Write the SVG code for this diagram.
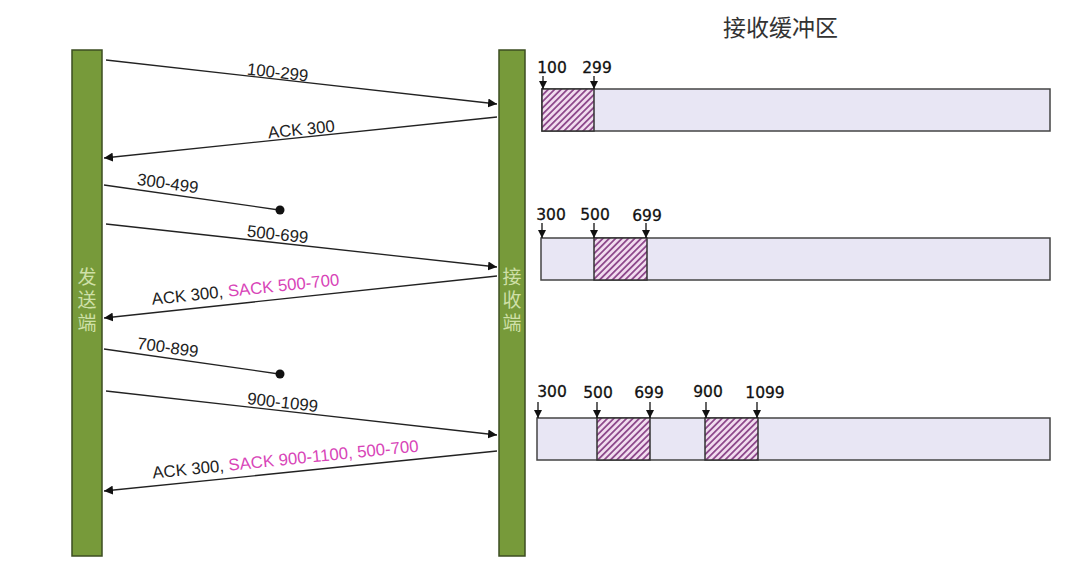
<svg xmlns="http://www.w3.org/2000/svg" width="1080" height="569" viewBox="0 0 1080 569">
<style>
.bar{fill:#779a3a;stroke:#3d4d22;stroke-width:1.5}
.barTxt{font-family:"Noto Sans CJK SC","Noto Sans",sans-serif;font-size:19px;fill:#cfe0a8;writing-mode:vertical-rl;letter-spacing:4px}
.msg{stroke:#222;stroke-width:1.3;fill:none}
.lbl{font-family:"Liberation Sans",Arial,sans-serif;font-size:16.8px;fill:#222;text-anchor:middle}
.pink{fill:#d845b8}
.buf{fill:#e8e6f4;stroke:#444;stroke-width:1.5}
.hatch{fill:url(#hp);stroke:#333;stroke-width:1.5}
.num{font-family:"DejaVu Sans",Verdana,sans-serif;font-size:15.5px;fill:#111;stroke:#111;stroke-width:0.3;text-anchor:middle}
.tick{stroke:#111;stroke-width:1.3;fill:none}
.title{font-family:"Noto Sans CJK SC",sans-serif;font-size:23px;fill:#333}
</style>
<defs>
<marker id="ah" viewBox="0 0 10 10" refX="10" refY="5" markerWidth="9" markerHeight="9" markerUnits="userSpaceOnUse" orient="auto">
<path d="M0,0 L10,5 L0,10 z" fill="#111"/>
</marker>
<marker id="th" viewBox="0 0 10 10" refX="10" refY="5" markerWidth="8" markerHeight="8" markerUnits="userSpaceOnUse" orient="auto">
<path d="M0,0 L10,5 L0,10 z" fill="#111"/>
</marker>
<pattern id="hp" patternUnits="userSpaceOnUse" width="4.5" height="4.5" patternTransform="rotate(45)">
<rect width="4.5" height="4.5" fill="#f1dcef"/>
<rect width="1.8" height="4.5" fill="#8e4a8c"/>
</pattern>
</defs>
<rect width="1080" height="569" fill="#fff"/>

<g id="sender">
<rect class="bar" x="72" y="50" width="30" height="506"/>
<text class="barTxt" x="87" y="267">发送端</text>
</g>
<g id="receiver">
<rect class="bar" x="499" y="50" width="26" height="506"/>
<text class="barTxt" x="512" y="267">接收端</text>
</g>

<g id="connectors">
<line class="msg" x1="106" y1="60" x2="497" y2="104" marker-end="url(#ah)"/>
<line class="msg" x1="497" y1="117" x2="104" y2="158" marker-end="url(#ah)"/>
<line class="msg" x1="104" y1="185" x2="279" y2="210"/>
<circle cx="280" cy="210" r="4.5" fill="#111"/>
<line class="msg" x1="106" y1="224" x2="497" y2="267" marker-end="url(#ah)"/>
<line class="msg" x1="497" y1="276" x2="104" y2="318" marker-end="url(#ah)"/>
<line class="msg" x1="104" y1="349" x2="279" y2="374"/>
<circle cx="280" cy="374" r="4.5" fill="#111"/>
<line class="msg" x1="106" y1="391" x2="497" y2="435" marker-end="url(#ah)"/>
<line class="msg" x1="497" y1="451" x2="104" y2="491" marker-end="url(#ah)"/>
</g>

<g id="labels">
<text class="lbl" transform="translate(277,78) rotate(6.4)">100-299</text>
<text class="lbl" transform="translate(302,135) rotate(-6)">ACK 300</text>
<text class="lbl" transform="translate(167,189) rotate(8)">300-499</text>
<text class="lbl" transform="translate(277,240) rotate(6.3)">500-699</text>
<text class="lbl" transform="translate(246,295) rotate(-6)">ACK 300, <tspan class="pink">SACK 500-700</tspan></text>
<text class="lbl" transform="translate(167,353) rotate(8)">700-899</text>
<text class="lbl" transform="translate(282,408) rotate(6.4)">900-1099</text>
<text class="lbl" transform="translate(286,465) rotate(-5.8)">ACK 300, <tspan class="pink">SACK 900-1100, 500-700</tspan></text>
</g>

<text class="title" x="723" y="36">接收缓冲区</text>

<g id="buffer1">
<rect class="buf" x="542" y="89" width="508" height="42"/>
<rect class="hatch" x="542" y="89" width="52" height="42"/>
<text class="num" x="552" y="73">100</text>
<text class="num" x="597" y="73">299</text>
<line class="tick" x1="543" y1="76" x2="543" y2="89" marker-end="url(#th)"/>
<line class="tick" x1="594" y1="76" x2="594" y2="89" marker-end="url(#th)"/>
</g>

<g id="buffer2">
<rect class="buf" x="541" y="238" width="509" height="42"/>
<rect class="hatch" x="594" y="238" width="53" height="42"/>
<text class="num" x="551" y="220">300</text>
<text class="num" x="595" y="220">500</text>
<text class="num" x="647" y="221">699</text>
<line class="tick" x1="542" y1="223" x2="542" y2="238" marker-end="url(#th)"/>
<line class="tick" x1="594" y1="223" x2="594" y2="238" marker-end="url(#th)"/>
<line class="tick" x1="646" y1="223" x2="646" y2="238" marker-end="url(#th)"/>
</g>

<g id="buffer3">
<rect class="buf" x="537" y="418" width="513" height="42"/>
<rect class="hatch" x="597" y="418" width="53" height="42"/>
<rect class="hatch" x="705" y="418" width="53" height="42"/>
<text class="num" x="552" y="397">300</text>
<text class="num" x="598" y="398">500</text>
<text class="num" x="649" y="398">699</text>
<text class="num" x="708" y="397">900</text>
<text class="num" x="765" y="398">1099</text>
<line class="tick" x1="538" y1="402" x2="538" y2="418" marker-end="url(#th)"/>
<line class="tick" x1="597" y1="402" x2="597" y2="418" marker-end="url(#th)"/>
<line class="tick" x1="650" y1="402" x2="650" y2="418" marker-end="url(#th)"/>
<line class="tick" x1="706" y1="402" x2="706" y2="418" marker-end="url(#th)"/>
<line class="tick" x1="757" y1="402" x2="757" y2="418" marker-end="url(#th)"/>
</g>
</svg>
